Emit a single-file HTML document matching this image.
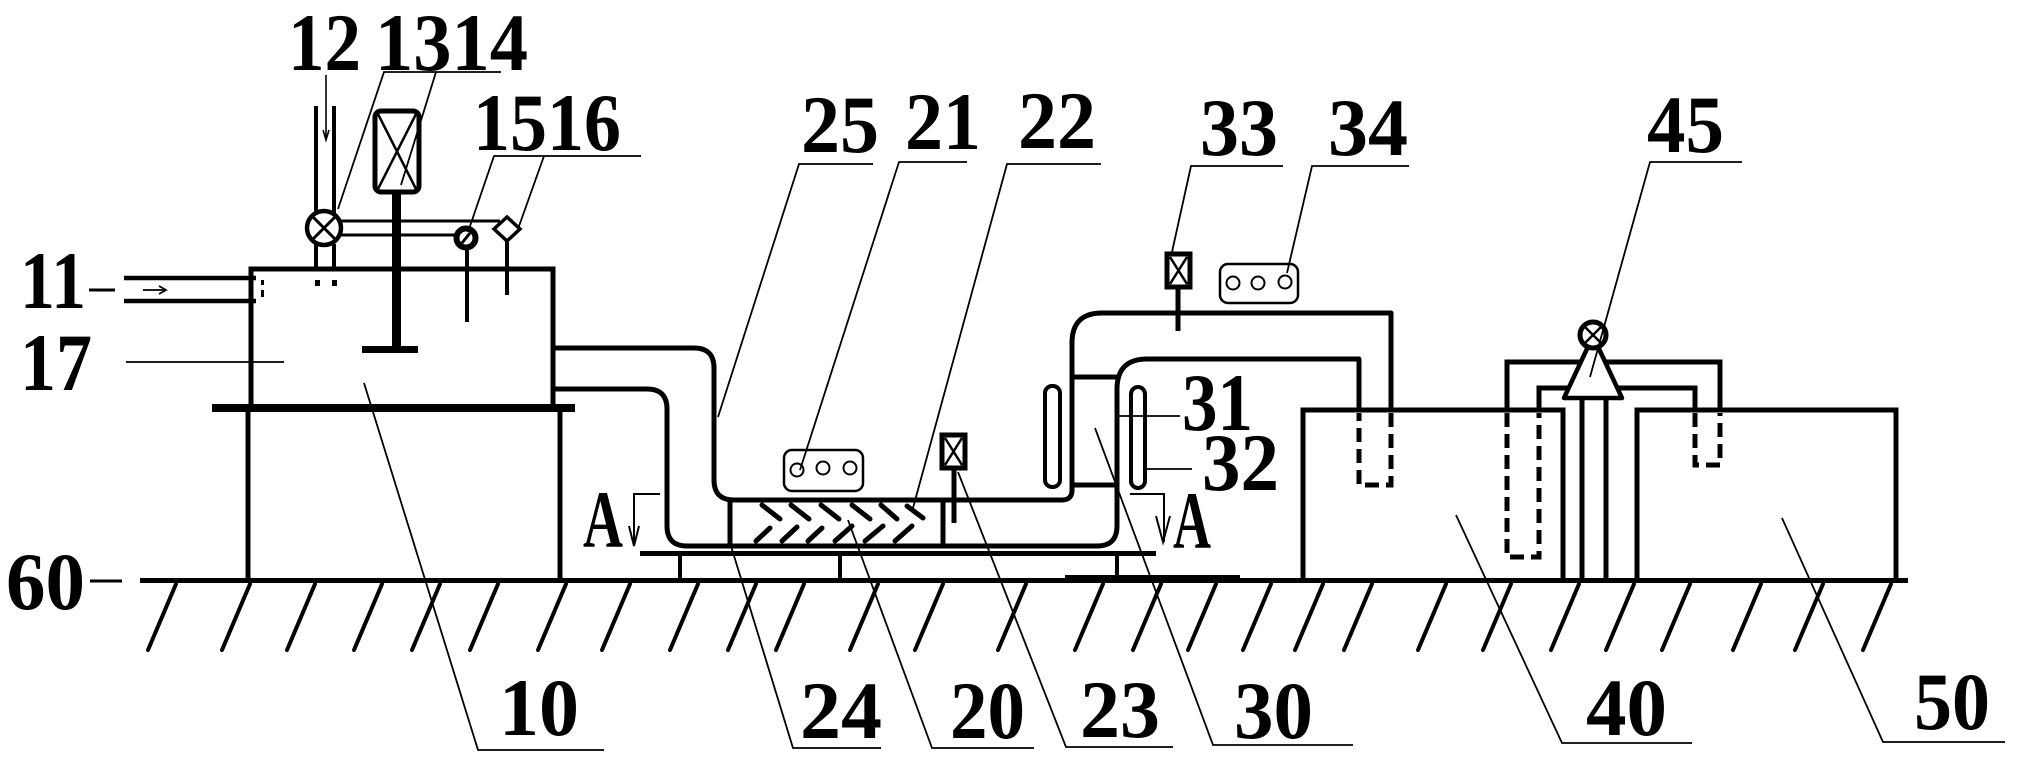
<!DOCTYPE html>
<html>
<head>
<meta charset="utf-8">
<style>
html,body{margin:0;padding:0;background:#fff;}
svg{display:block;}
.t{font-family:"Liberation Serif","Times New Roman",serif;font-weight:bold;font-size:82px;fill:#000;}
</style>
</head>
<body>
<svg width="2017" height="762" viewBox="0 0 2017 762" xmlns="http://www.w3.org/2000/svg">
<rect width="2017" height="762" fill="#fff"/>

<!-- ground -->
<rect x="140" y="578" width="1768" height="5" fill="#000"/>
<rect x="1065" y="575" width="175" height="5" fill="#000"/>
<g stroke="#000" stroke-width="4" stroke-linecap="round">
<line x1="176" y1="584" x2="148" y2="650"/>
<line x1="250" y1="584" x2="222" y2="650"/>
<line x1="315" y1="584" x2="287" y2="650"/>
<line x1="382" y1="584" x2="354" y2="650"/>
<line x1="440" y1="584" x2="412" y2="650"/>
<line x1="498" y1="584" x2="470" y2="650"/>
<line x1="566" y1="584" x2="538" y2="650"/>
<line x1="630" y1="584" x2="602" y2="650"/>
<line x1="698" y1="584" x2="670" y2="650"/>
<line x1="756" y1="584" x2="728" y2="650"/>
<line x1="804" y1="584" x2="776" y2="650"/>
<line x1="878" y1="584" x2="850" y2="650"/>
<line x1="943" y1="584" x2="915" y2="650"/>
<line x1="1026" y1="584" x2="998" y2="650"/>
<line x1="1103" y1="584" x2="1075" y2="650"/>
<line x1="1161" y1="584" x2="1133" y2="650"/>
<line x1="1216" y1="584" x2="1188" y2="650"/>
<line x1="1271" y1="584" x2="1243" y2="650"/>
<line x1="1323" y1="584" x2="1295" y2="650"/>
<line x1="1372" y1="584" x2="1344" y2="650"/>
<line x1="1446" y1="584" x2="1418" y2="650"/>
<line x1="1511" y1="584" x2="1483" y2="650"/>
<line x1="1579" y1="584" x2="1551" y2="650"/>
<line x1="1634" y1="584" x2="1606" y2="650"/>
<line x1="1690" y1="584" x2="1662" y2="650"/>
<line x1="1761" y1="584" x2="1733" y2="650"/>
<line x1="1823" y1="584" x2="1795" y2="650"/>
<line x1="1891" y1="584" x2="1863" y2="650"/>
</g>

<!-- tank 10 / 17 -->
<g stroke="#000" fill="none" stroke-width="5">
<rect x="251" y="269" width="302" height="139"/>
<line x1="248" y1="410" x2="248" y2="580"/>
<line x1="560" y1="410" x2="560" y2="580"/>
</g>
<rect x="212" y="404" width="363" height="8" fill="#000"/>

<!-- inlet 11 -->
<g stroke="#000" stroke-width="4.5">
<line x1="124" y1="278" x2="256" y2="278"/>
<line x1="124" y1="301" x2="256" y2="301"/>
</g>
<g stroke="#000" stroke-width="1.8" fill="none">
<line x1="143" y1="290" x2="166" y2="290"/>
<polyline points="159,286 166,290 159,294"/>
</g>
<rect x="261" y="280" width="3" height="5" fill="#000"/>
<rect x="261" y="290" width="3" height="7" fill="#000"/>

<!-- valve 12 & pipe -->
<g stroke="#000" stroke-width="4" fill="none">
<line x1="316" y1="106" x2="316" y2="214"/>
<line x1="334" y1="106" x2="334" y2="214"/>
<line x1="316" y1="244" x2="316" y2="268"/>
<line x1="334" y1="244" x2="334" y2="268"/>
</g>
<circle cx="324" cy="228" r="17" fill="#fff" stroke="#000" stroke-width="4.5"/>
<g stroke="#000" stroke-width="3">
<line x1="312" y1="216" x2="336" y2="240"/>
<line x1="336" y1="216" x2="312" y2="240"/>
</g>
<rect x="315" y="280" width="5" height="6" fill="#000"/>
<rect x="332" y="280" width="5" height="6" fill="#000"/>
<g stroke="#000" stroke-width="1.6" fill="none">
<line x1="326" y1="75" x2="326" y2="140"/>
<polyline points="323,130 326,140 329,130"/>
</g>

<!-- motor 14 -->
<rect x="375" y="111" width="44" height="81" rx="6" fill="#fff" stroke="#000" stroke-width="5"/>
<g stroke="#000" stroke-width="2.5">
<line x1="378" y1="114" x2="416" y2="189"/>
<line x1="416" y1="114" x2="378" y2="189"/>
</g>
<rect x="392" y="193" width="9" height="156" fill="#000"/>
<rect x="362" y="346" width="56" height="7" fill="#000"/>

<!-- connecting lines valve->15/16 -->
<g stroke="#000" stroke-width="3">
<line x1="341" y1="221" x2="500" y2="221"/>
<line x1="341" y1="235" x2="456" y2="235"/>
</g>
<!-- gauge 15 -->
<circle cx="466" cy="238" r="9.5" fill="#fff" stroke="#000" stroke-width="6"/>
<line x1="462" y1="243" x2="470" y2="233" stroke="#000" stroke-width="3"/>
<line x1="467" y1="249" x2="467" y2="322" stroke="#000" stroke-width="4"/>
<!-- diamond 16 -->
<polygon points="507,217 520,229 507,241 494,229" fill="#fff" stroke="#000" stroke-width="3.5"/>
<line x1="507" y1="241" x2="507" y2="295" stroke="#000" stroke-width="4"/>

<!-- pipe system -->
<g stroke="#000" stroke-width="5" fill="none" stroke-linejoin="round">
<path d="M553,348 H694 Q714,348 714,368 V480 Q714,500 734,500 H1062 Q1072,500 1072,490 V343 Q1072,313 1102,313 H1391 V410"/>
<path d="M553,389 H647 Q667,389 667,409 V526 Q667,546 687,546 H1097 Q1117,546 1117,526 V389 Q1117,359 1147,359 H1359 V410"/>
<line x1="730" y1="500" x2="730" y2="546"/>
<line x1="943" y1="500" x2="943" y2="546"/>
<line x1="1072" y1="377" x2="1117" y2="377"/>
<line x1="1072" y1="485" x2="1117" y2="485"/>
</g>
<!-- base plate for 20 -->
<rect x="640" y="551" width="516" height="5" fill="#000"/>
<g stroke="#000" stroke-width="4">
<line x1="680" y1="556" x2="680" y2="580"/>
<line x1="840" y1="556" x2="840" y2="580"/>
<line x1="1117" y1="556" x2="1117" y2="580"/>
</g>

<!-- chevrons -->
<g stroke="#000" stroke-width="5" stroke-linecap="round">
<line x1="762" y1="505" x2="780" y2="519"/>
<line x1="791" y1="505" x2="809" y2="519"/>
<line x1="821" y1="505" x2="839" y2="519"/>
<line x1="852" y1="505" x2="870" y2="519"/>
<line x1="881" y1="505" x2="897" y2="519"/>
<line x1="907" y1="506" x2="923" y2="518"/>
<line x1="770" y1="528" x2="756" y2="541"/>
<line x1="797" y1="527" x2="782" y2="541"/>
<line x1="822" y1="528" x2="808" y2="541"/>
<line x1="852" y1="526" x2="835" y2="541"/>
<line x1="883" y1="526" x2="865" y2="541"/>
<line x1="912" y1="526" x2="895" y2="541"/>
</g>

<!-- display 21 -->
<rect x="784" y="450" width="79" height="41" rx="8" fill="#fff" stroke="#000" stroke-width="2.5"/>
<g fill="none" stroke="#000" stroke-width="2">
<circle cx="797" cy="470" r="6.5"/>
<circle cx="823" cy="468" r="6.5"/>
<circle cx="850" cy="468" r="6.5"/>
</g>

<!-- valve 23 -->
<rect x="942" y="435" width="23" height="33" fill="#fff" stroke="#000" stroke-width="5"/>
<g stroke="#000" stroke-width="2.5">
<line x1="945" y1="438" x2="962" y2="465"/>
<line x1="962" y1="438" x2="945" y2="465"/>
</g>
<line x1="954" y1="468" x2="954" y2="523" stroke="#000" stroke-width="5"/>

<!-- valve 33 -->
<rect x="1167" y="254" width="23" height="33" fill="#fff" stroke="#000" stroke-width="5"/>
<g stroke="#000" stroke-width="2.5">
<line x1="1170" y1="257" x2="1187" y2="284"/>
<line x1="1187" y1="257" x2="1170" y2="284"/>
</g>
<line x1="1178" y1="287" x2="1178" y2="331" stroke="#000" stroke-width="5"/>

<!-- display 34 -->
<rect x="1220" y="264" width="78" height="39" rx="8" fill="#fff" stroke="#000" stroke-width="2.5"/>
<g fill="none" stroke="#000" stroke-width="2">
<circle cx="1233" cy="283" r="6.5"/>
<circle cx="1258" cy="283" r="6.5"/>
<circle cx="1285" cy="282" r="6.5"/>
</g>

<!-- sight glasses -->
<rect x="1045" y="386" width="15" height="101" rx="7" fill="#fff" stroke="#000" stroke-width="4"/>
<rect x="1131" y="387" width="14" height="101" rx="7" fill="#fff" stroke="#000" stroke-width="4"/>

<!-- boxes 40, 50 -->
<g stroke="#000" stroke-width="5" fill="none">
<polyline points="1303,580 1303,410 1563,410 1563,580"/>
<polyline points="1637,580 1637,410 1896,410 1896,580"/>
</g>

<!-- dashed pipes -->
<g stroke="#000" stroke-width="5" fill="none" stroke-dasharray="14 7">
<path d="M1391,413 V485 H1359 V413"/>
<path d="M1507,413 V557 H1539 V413"/>
<path d="M1695,413 V465 H1720 V413"/>
</g>

<!-- pump 45 lines -->
<g stroke="#000" stroke-width="5" fill="none">
<polyline points="1507,410 1507,362 1582,362"/>
<polyline points="1604,362 1720,362 1720,410"/>
<polyline points="1539,410 1539,388 1570,388"/>
<polyline points="1617,388 1695,388 1695,410"/>
<line x1="1582" y1="400" x2="1582" y2="580"/>
<line x1="1606" y1="400" x2="1606" y2="580"/>
</g>
<polygon points="1593,336 1564,398 1622,398" fill="#fff" stroke="#000" stroke-width="4.5" stroke-linejoin="round"/>
<circle cx="1593" cy="335" r="13" fill="#fff" stroke="#000" stroke-width="5"/>
<g stroke="#000" stroke-width="2.5">
<line x1="1585" y1="327" x2="1601" y2="343"/>
<line x1="1601" y1="327" x2="1585" y2="343"/>
</g>

<!-- section marks A -->
<g stroke="#000" stroke-width="2" fill="none">
<polyline points="660,494 634,494 634,546"/>
<polyline points="629,526 634,546 639,526"/>
<polyline points="1130,494 1164,494 1164,542"/>
<polyline points="1156,516 1163,542 1170,516"/>
</g>

<!-- leaders -->
<g stroke="#000" stroke-width="1.8" fill="none">
<line x1="89" y1="290" x2="115" y2="290" stroke-width="3"/>
<line x1="90" y1="581" x2="122" y2="581" stroke-width="3"/>
<line x1="126" y1="362" x2="284" y2="362"/>
<polyline points="501,72 384,72 338,209"/>
<line x1="436" y1="72" x2="401" y2="185"/>
<polyline points="641,156 494,156 468,232"/>
<line x1="544" y1="156" x2="518" y2="229"/>
<polyline points="873,164 799,164 718,417"/>
<polyline points="967,162 899,162 800,470"/>
<polyline points="1101,164 1007,164 913,508"/>
<polyline points="1283,166 1191,166 1172,252"/>
<polyline points="1409,166 1312,166 1287,273"/>
<polyline points="1742,162 1650,162 1590,377"/>
<line x1="1118" y1="416" x2="1180" y2="416"/>
<line x1="1147" y1="469" x2="1192" y2="469"/>
<polyline points="364,383 478,750 604,750"/>
<polyline points="731,546 793,748 881,748"/>
<polyline points="848,520 932,748 1034,748"/>
<polyline points="958,472 1066,747 1173,747"/>
<polyline points="1095,428 1213,745 1353,745"/>
<polyline points="1456,515 1562,743 1692,743"/>
<polyline points="1782,518 1883,742 2005,742"/>
</g>

<!-- labels -->
<g class="t">
<text x="20" y="308" textLength="66" lengthAdjust="spacingAndGlyphs">11</text>
<text x="20" y="390" textLength="72" lengthAdjust="spacingAndGlyphs">17</text>
<text x="6" y="609" textLength="79" lengthAdjust="spacingAndGlyphs">60</text>
<text x="288" y="70" textLength="73" lengthAdjust="spacingAndGlyphs">12</text>
<text x="375" y="70" textLength="153" lengthAdjust="spacingAndGlyphs">1314</text>
<text x="473" y="150" textLength="148" lengthAdjust="spacingAndGlyphs">1516</text>
<text x="801" y="152" textLength="78" lengthAdjust="spacingAndGlyphs">25</text>
<text x="905" y="149" textLength="76" lengthAdjust="spacingAndGlyphs">21</text>
<text x="1018" y="148" textLength="78" lengthAdjust="spacingAndGlyphs">22</text>
<text x="1200" y="155" textLength="78" lengthAdjust="spacingAndGlyphs">33</text>
<text x="1328" y="155" textLength="80" lengthAdjust="spacingAndGlyphs">34</text>
<text x="1647" y="152" textLength="77" lengthAdjust="spacingAndGlyphs">45</text>
<text x="1182" y="430" textLength="71" lengthAdjust="spacingAndGlyphs">31</text>
<text x="1202" y="490" textLength="77" lengthAdjust="spacingAndGlyphs">32</text>
<text x="583" y="547" textLength="40" lengthAdjust="spacingAndGlyphs">A</text>
<text x="1173" y="548" textLength="38" lengthAdjust="spacingAndGlyphs">A</text>
<text x="499" y="735" textLength="80" lengthAdjust="spacingAndGlyphs">10</text>
<text x="800" y="738" textLength="82" lengthAdjust="spacingAndGlyphs">24</text>
<text x="950" y="738" textLength="75" lengthAdjust="spacingAndGlyphs">20</text>
<text x="1080" y="737" textLength="80" lengthAdjust="spacingAndGlyphs">23</text>
<text x="1234" y="738" textLength="79" lengthAdjust="spacingAndGlyphs">30</text>
<text x="1586" y="735" textLength="81" lengthAdjust="spacingAndGlyphs">40</text>
<text x="1914" y="729" textLength="76" lengthAdjust="spacingAndGlyphs">50</text>
</g>
</svg>
</body>
</html>
